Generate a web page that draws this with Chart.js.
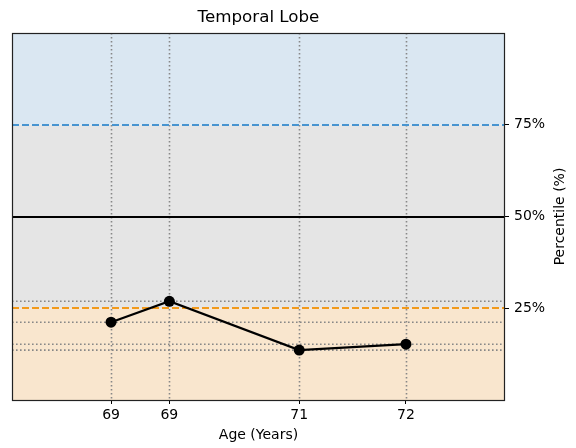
<!DOCTYPE html>
<html>
<head>
<meta charset="utf-8">
<script src="https://cdn.jsdelivr.net/npm/chart.js@4"></script>
<style>
  body { margin: 0; background: #fff; }
  #wrap { width: 576px; height: 448px; }
</style>
</head>
<body>
<div id="wrap"><canvas id="chart" width="576" height="448"></canvas></div>
<script>
// data
const ages = [68.9, 69.43, 70.61, 71.58];
const percentiles = [21.2, 26.9, 13.6, 15.2];
const yTicks = [25, 50, 75];
const bands = [[0, 25], [25, 75], [75, 100]];
const bandColors = ['rgb(249,230,206)', 'rgb(229,229,229)', 'rgb(218,231,242)'];

const FONT = '"DejaVu Sans", sans-serif';

// backgrounds, reference lines and the dotted guide lines
const guides = {
    id: 'guides',
    beforeDatasetsDraw(chart) {
        const { ctx, chartArea: a, scales } = chart;
        const x = scales.x, y = scales.y;
        ctx.save();
        ctx.beginPath();
        ctx.rect(a.left, a.top, a.right - a.left, a.bottom - a.top);
        ctx.clip();

        bands.forEach((b, i) => {
            const top = y.getPixelForValue(b[1]);
            const bot = y.getPixelForValue(b[0]);
            ctx.fillStyle = bandColors[i];
            ctx.fillRect(a.left, top, a.right - a.left, bot - top);
        });

        // dotted lines through every point
        ctx.strokeStyle = 'rgb(135,135,135)';
        ctx.lineWidth = 1.6;
        ctx.setLineDash([1.6, 2.4]);
        ages.forEach(v => {
            const px = Math.round(x.getPixelForValue(v)) + 0.5;
            ctx.beginPath();
            ctx.moveTo(px, a.top);
            ctx.lineTo(px, a.bottom);
            ctx.stroke();
        });
        percentiles.forEach(v => {
            const py = y.getPixelForValue(v);
            ctx.beginPath();
            ctx.moveTo(a.left, py);
            ctx.lineTo(a.right, py);
            ctx.stroke();
        });

        function hline(v, color, dash) {
            const py = Math.round(y.getPixelForValue(v));
            ctx.strokeStyle = color;
            ctx.lineWidth = 2;
            ctx.setLineDash(dash);
            ctx.beginPath();
            ctx.moveTo(a.left, py);
            ctx.lineTo(a.right, py);
            ctx.stroke();
        }
        hline(75, '#4794d0', [7, 3]);
        hline(25, '#f29a1c', [7, 3]);
        hline(50, '#000', []);
        ctx.restore();
    },
    afterDraw(chart) {
        const { ctx, chartArea: a } = chart;
        ctx.save();
        ctx.strokeStyle = '#222';
        ctx.lineWidth = 1.2;
        ctx.setLineDash([]);
        ctx.strokeRect(a.left + 0.5, a.top + 0.5, a.right - a.left - 1, a.bottom - a.top);

        ctx.fillStyle = '#000';
        ctx.textAlign = 'center';
        ctx.textBaseline = 'middle';
        ctx.font = '16.7px ' + FONT;
        ctx.fillText('Temporal Lobe', (a.left + a.right) / 2, 18);
        ctx.font = '14px ' + FONT;
        ctx.fillText('Age (Years)', (a.left + a.right) / 2, 435);
        ctx.translate(560, (a.top + a.bottom) / 2);
        ctx.rotate(-Math.PI / 2);
        ctx.fillText('Percentile (%)', 0, 0);
        ctx.restore();
    }
};

new Chart(document.getElementById('chart'), {
    type: 'line',
    data: {
        datasets: [{
            data: ages.map((a, i) => ({ x: a, y: percentiles[i] })),
            borderColor: '#000',
            backgroundColor: '#000',
            borderWidth: 2.2,
            pointRadius: 5.5,
            pointBorderWidth: 0,
            pointBackgroundColor: '#000',
            tension: 0
        }]
    },
    options: {
        responsive: false,
        animation: false,
        layout: { padding: { left: 12, top: 33, right: 0, bottom: 0 } },
        plugins: { legend: { display: false }, tooltip: { enabled: false }, title: { display: false } },
        scales: {
            x: {
                type: 'linear',
                min: 68.0,
                max: 72.48,
                afterBuildTicks: s => { s.ticks = ages.map(v => ({ value: v })); },
                afterFit: s => { s.height = 48; },
                grid: { drawOnChartArea: false, color: '#000', tickLength: 4, tickColor: '#000' },
                border: { display: false },
                ticks: {
                    color: '#000',
                    font: { family: FONT, size: 14 },
                    padding: 3,
                    maxRotation: 0,
                    autoSkip: false,
                    callback: v => Math.round(v)
                }
            },
            y: {
                position: 'right',
                min: 0,
                max: 100,
                afterBuildTicks: s => { s.ticks = yTicks.map(v => ({ value: v })); },
                afterFit: s => { s.width = 71; },
                grid: { drawOnChartArea: false, color: '#000', tickLength: 4, tickColor: '#000' },
                border: { display: false },
                ticks: {
                    color: '#000',
                    font: { family: FONT, size: 14 },
                    padding: 5,
                    callback: v => v + '%'
                }
            }
        }
    },
    plugins: [guides]
});
</script>
</body>
</html>
